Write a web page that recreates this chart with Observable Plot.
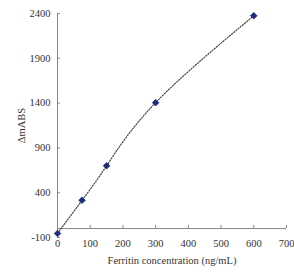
<!DOCTYPE html>
<html><head><meta charset="utf-8">
<script src="https://cdn.jsdelivr.net/npm/d3@7"></script>
<script src="https://cdn.jsdelivr.net/npm/@observablehq/plot@0.6"></script>
<style>body{margin:0;background:#fff}</style>
</head><body><div id="chart"></div>
<script>
const concentration = [0, 75, 150, 300, 600];
const deltaMABS = [-55, 315, 700, 1405, 2375];
const xTicks = [0, 100, 200, 300, 400, 500, 600, 700];
const yTicks = [-100, 400, 900, 1400, 1900, 2400];

const data = concentration.map((c, i) => ({c, v: deltaMABS[i]}));

const chart = Plot.plot({
  width: 294, height: 272,
  marginLeft: 57, marginRight: 8, marginTop: 13, marginBottom: 35,
  style: {fontFamily: "Liberation Serif", fontSize: "10px", color: "#333", background: "#fff"},
  x: {domain: [0, 700]},
  y: {domain: [-100, 2400]},
  marks: [
    Plot.axisX(xTicks, {tickSize: 0, tickPadding: 2, tickFormat: d => String(d), label: "Ferritin concentration (ng/mL)", labelArrow: false, labelAnchor: "center", labelOffset: 26, fontSize: 10.5}),
    Plot.axisY(yTicks, {tickSize: 0, tickPadding: 7, tickFormat: d => String(d), label: "ΔmABS", labelArrow: false, labelAnchor: "center", labelOffset: 40, fontSize: 10.5}),
    Plot.ruleX([0], {stroke: "#888"}),
    Plot.ruleY([0], {stroke: "#888"}),
    Plot.ruleX(xTicks, {y1: 0, y2: 35, stroke: "#888"}),
    Plot.ruleY(yTicks, {x1: 0, x2: 9, stroke: "#888"}),
    Plot.line(data, {x: "c", y: "v", curve: "natural", stroke: "#444", strokeWidth: 1.2, strokeDasharray: "1.2,1.6"}),
    Plot.dot(data, {x: "c", y: "v", symbol: "square", rotate: 45, r: 2.6, fill: "#1f2a7c", stroke: "#1f2a7c", strokeWidth: 0.8})
  ]
});
document.getElementById("chart").append(chart);
</script></body></html>
